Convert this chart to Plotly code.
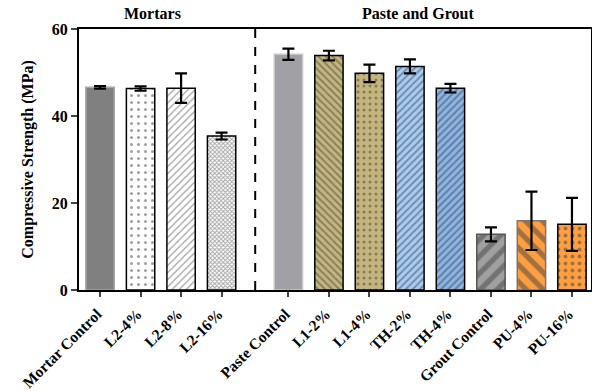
import plotly.graph_objects as go

categories = ["Mortar Control", "L2-4%", "L2-8%", "L2-16%",
              "Paste Control", "L1-2%", "L1-4%", "TH-2%", "TH-4%",
              "Grout Control", "PU-4%", "PU-16%"]
strength = [46.6, 46.3, 46.4, 35.4, 54.2, 53.9, 49.8, 51.4, 46.4, 12.8, 15.9, 15.1]
errors = [0.3, 0.5, 3.4, 0.8, 1.3, 1.1, 2.0, 1.6, 1.0, 1.6, 6.7, 6.1]
y_ticks = [0, 20, 40, 60]
group_titles = ["Mortars", "Paste and Grout"]

SERIF = "Liberation Serif, Times New Roman, serif"

# styles
fills = ["#808080", "white", "white", "white",
         "#a1a0a5", "#c4b57c", "#c4b57c", "#a6cdf5", "#8ab6ea",
         "#a0a0a0", "#ff9f40", "#ff9f40"]
shapes = ["", ".", "/", "x", "", "\\", ".", "/", "/", "/", "\\", "."]
fgcols = ["#808080", "#a0a0a0", "#8a8a8a", "#9a9a9a",
          "#a1a0a5", "#3a3a3a", "#2a2a2a", "white", "#1a1a2a",
          "black", "black", "black"]
psizes = [8, 7, 5, 3, 8, 5, 6, 5, 5, 12, 12, 7]
solid = [0.3, 0.15, 0.25, 0.5, 0.3, 0.35, 0.2, 0.35, 0.4, 0.45, 0.45, 0.25]
lcols = ["#a8a8a8", "black", "black", "black", "#c8c8cc", "black", "black",
         "black", "black", "#555555", "#777777", "black"]

# positions: mortar group then a gap then paste/grout group
xpos = [i if i < 4 else i + 0.65 for i in range(len(categories))]
divider = 3.83

fig = go.Figure()
fig.add_trace(go.Bar(
    x=xpos, y=strength, width=0.7,
    marker=dict(color=fills,
                line=dict(color=lcols, width=1.5),
                pattern=dict(shape=shapes, fgcolor=fgcols,
                             size=psizes, solidity=solid, fillmode="overlay")),
    error_y=dict(type="data", array=errors, color="black", thickness=2.2, width=6),
    showlegend=False,
))

fig.add_shape(type="line", x0=divider, x1=divider, y0=0, y1=60,
              xref="x", yref="y", line=dict(color="black", width=2, dash="dash"))

for title, xc in zip(group_titles, [1.3, 7.85]):
    fig.add_annotation(text="<b>" + title + "</b>", x=xc, y=1.0, xref="x",
                       yref="paper", yanchor="middle", yshift=16, showarrow=False,
                       font=dict(size=16, family=SERIF, color="black"))

fig.update_layout(
    width=592, height=391,
    margin=dict(l=79, r=1, t=29, b=101),
    plot_bgcolor="white", paper_bgcolor="white",
    font=dict(family=SERIF, color="black"),
    xaxis=dict(range=[-0.52, 12.12], tickvals=xpos, ticktext=["<b>" + c + "</b>" for c in categories],
               tickangle=-45, tickfont=dict(size=15.5, family=SERIF), ticks="outside", ticklen=5,
               tickwidth=2, ticklabelshift=-3, ticklabelstandoff=2,
               showline=True, linecolor="black", linewidth=2, mirror=True, showgrid=False,
               zeroline=False, automargin=False),
    yaxis=dict(range=[0, 60], tickvals=y_ticks, ticktext=["<b>%d</b>" % v for v in y_ticks],
               tickfont=dict(size=16, family=SERIF), ticks="outside", ticklen=6, tickwidth=2,
               showline=True, linecolor="black", linewidth=2, mirror=True, showgrid=False,
               zeroline=False, automargin=False,
               title=dict(text="<b>Compressive Strength (MPa)</b>",
                          font=dict(size=16, family=SERIF, color="black"), standoff=14)),
)

fig.write_html("out.html", config={"displayModeBar": False},
               post_script="document.body.style.margin='0';document.body.style.overflow='hidden';")
